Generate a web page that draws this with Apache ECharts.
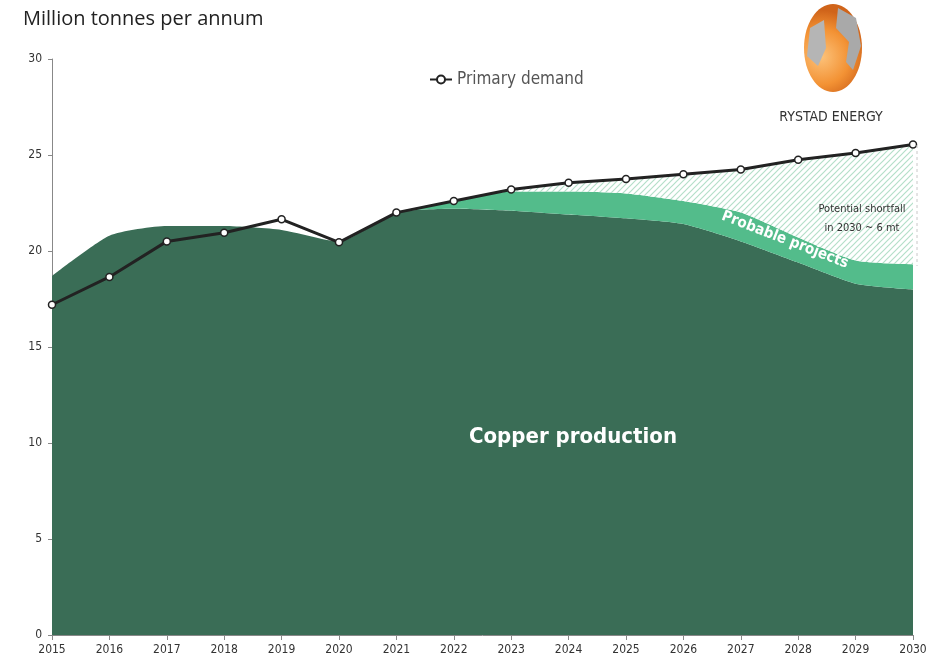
<!DOCTYPE html>
<html>
<head>
<meta charset="utf-8">
<script src="https://cdn.jsdelivr.net/npm/echarts@6/dist/echarts.min.js"></script>
<style>
  html, body { margin: 0; padding: 0; background: #fff; }
  #chart { width: 944px; height: 668px; }
</style>
</head>
<body>
<div id="chart"></div>
<script>
// values (million tonnes per annum)
const years = ['2015','2016','2017','2018','2019','2020','2021','2022','2023','2024','2025','2026','2027','2028','2029','2030'];
const copperProduction = [18.7, 20.8, 21.3, 21.3, 21.1, 20.5, 22.0, 22.2, 22.1, 21.9, 21.7, 21.4, 20.5, 19.4, 18.3, 18.0];
const probableProjects = [0, 0, 0, 0, 0, 0, 0, 0.4, 1.0, 1.2, 1.3, 1.2, 1.5, 1.3, 1.2, 1.3];
const shortfall = [0, 0, 0, 0, 0, 0, 0, 0, 0.1, 0.4, 0.75, 1.4, 2.3, 4.0, 5.6, 6.3];
const primaryDemand = [17.2, 18.65, 20.5, 20.95, 21.65, 20.45, 22.0, 22.6, 23.2, 23.55, 23.75, 24.0, 24.25, 24.75, 25.1, 25.55];

const narrow = '"DejaVu Sans Condensed", "Liberation Sans Narrow", "Open Sans", sans-serif';

// diagonal hatch for the shortfall area
function hatch() {
  const c = document.createElement('canvas');
  c.width = 6; c.height = 6;
  const ctx = c.getContext('2d');
  ctx.fillStyle = '#ffffff';
  ctx.fillRect(0, 0, 6, 6);
  ctx.strokeStyle = '#b4dfc9';
  ctx.lineWidth = 1.2;
  ctx.beginPath();
  ctx.moveTo(-1, 7); ctx.lineTo(7, -1);
  ctx.moveTo(-1, 1); ctx.lineTo(1, -1);
  ctx.moveTo(5, 7); ctx.lineTo(7, 5);
  ctx.stroke();
  return c;
}

const chart = echarts.init(document.getElementById('chart'));
chart.setOption({
  animation: false,
  backgroundColor: '#fff',
  grid: { left: 52, right: 31, top: 59, bottom: 33 },
  title: {
    text: 'Million tonnes per annum',
    left: 18, top: 4,
    textStyle: { fontFamily: '"Open Sans", sans-serif', fontSize: 20, fontWeight: 'normal', color: '#222' }
  },
  legend: {
    data: ['Primary demand'],
    left: 424, top: 66,
    itemWidth: 22, itemHeight: 10, itemGap: 2,
    textStyle: { fontFamily: narrow, fontSize: 17, color: '#555' }
  },
  xAxis: {
    type: 'category',
    data: years,
    boundaryGap: false,
    axisLine: { lineStyle: { color: '#888' } },
    axisTick: { show: true, alignWithLabel: true, length: 5, lineStyle: { color: '#888' } },
    axisLabel: { fontFamily: narrow, fontSize: 12, color: '#333', margin: 9, interval: 0 },
    splitLine: { show: false }
  },
  yAxis: {
    type: 'value',
    min: 0, max: 30, interval: 5,
    axisLine: { show: true, lineStyle: { color: '#888' } },
    axisTick: { show: true, length: 4, lineStyle: { color: '#888' } },
    axisLabel: { fontFamily: narrow, fontSize: 12, color: '#333', margin: 10 },
    splitLine: { show: false }
  },
  series: [
    {
      name: 'Copper production',
      type: 'line',
      stack: 'supply',
      data: copperProduction,
      symbol: 'none',
      smooth: 0.2,
      lineStyle: { width: 0 },
      areaStyle: { color: '#3a6d56', opacity: 1 },
      z: 1
    },
    {
      name: 'Probable projects',
      type: 'line',
      stack: 'supply',
      data: probableProjects,
      symbol: 'none',
      smooth: 0.2,
      lineStyle: { width: 0 },
      areaStyle: { color: '#53bc8b', opacity: 1 },
      z: 1
    },
    {
      name: 'Shortfall',
      type: 'line',
      stack: 'supply',
      data: shortfall,
      symbol: 'none',
      smooth: 0.2,
      lineStyle: { width: 0 },
      areaStyle: { color: { image: hatch(), repeat: 'repeat' }, opacity: 1 },
      z: 1
    },
    {
      name: 'Primary demand',
      type: 'line',
      data: primaryDemand,
      symbol: 'circle',
      symbolSize: 7,
      showAllSymbol: true,
      itemStyle: { color: '#fff', borderColor: '#222', borderWidth: 1.5 },
      lineStyle: { color: '#222', width: 3 },
      z: 5
    }
  ],
  graphic: [
    {
      type: 'text', x: 573, y: 437, z: 20,
      style: { text: 'Copper production', fill: '#fff', font: 'bold 22px ' + narrow, align: 'center', verticalAlign: 'middle' }
    },
    {
      type: 'text', x: 785, y: 240, rotation: -0.37, z: 20,
      style: { text: 'Probable projects', fill: '#fff', font: 'bold 15px ' + narrow, align: 'center', verticalAlign: 'middle' }
    },
    {
      type: 'text', x: 862, y: 219, z: 20,
      style: { text: 'Potential shortfall\nin 2030 ~ 6 mt', fill: '#333', font: '11px ' + narrow, align: 'center', verticalAlign: 'middle', lineHeight: 19 }
    },
    {
      type: 'line', z: 20,
      shape: { x1: 917, y1: 145, x2: 917, y2: 266 },
      style: { stroke: '#c8c8c8', lineWidth: 1, lineDash: [3, 3] }
    },
    {
      type: 'ellipse', z: 20,
      shape: { cx: 833, cy: 48, rx: 29, ry: 44 },
      style: {
        fill: new echarts.graphic.RadialGradient(0.3, 0.6, 0.8, [
          { offset: 0, color: '#fcc27a' },
          { offset: 0.6, color: '#f39234' },
          { offset: 1, color: '#d0641a' }
        ])
      }
    },
    {
      type: 'polygon', z: 21,
      shape: { points: [[838, 8], [856, 18], [861, 46], [853, 70], [846, 62], [849, 42], [836, 28]] },
      style: { fill: '#a9a9a9' }
    },
    {
      type: 'polygon', z: 21,
      shape: { points: [[810, 28], [824, 20], [826, 48], [818, 66], [807, 56]] },
      style: { fill: '#b5b5b5' }
    },
    {
      type: 'text', x: 831, y: 117, z: 20,
      style: { text: 'RYSTAD ENERGY', fill: '#333', font: '14px ' + narrow, align: 'center', verticalAlign: 'middle' }
    }
  ]
});
</script>
</body>
</html>
